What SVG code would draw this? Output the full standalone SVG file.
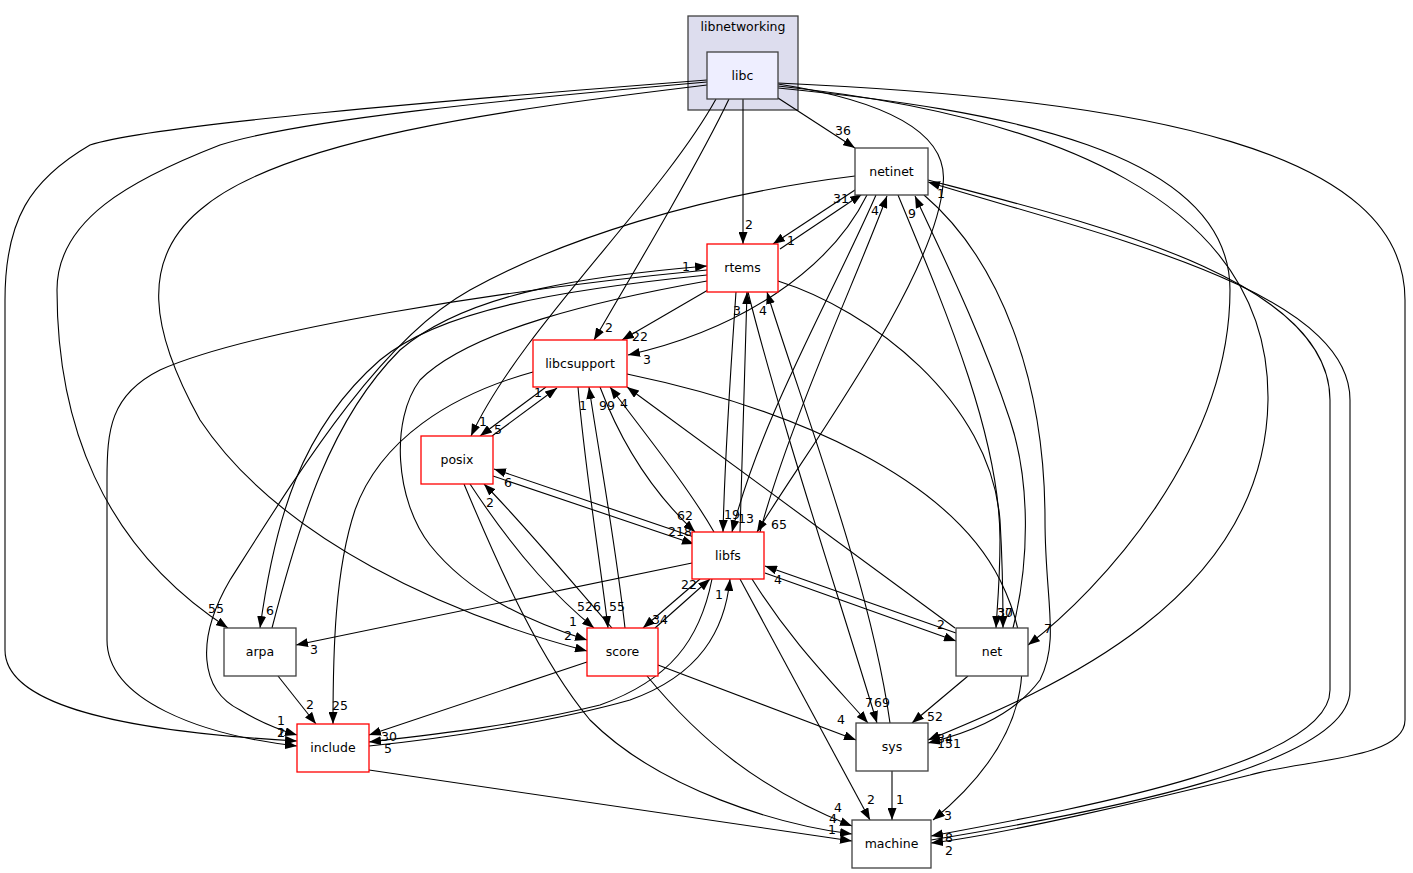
<svg xmlns="http://www.w3.org/2000/svg" width="1413" height="873" viewBox="0 0 1413 873">
<style>
.e{fill:none;stroke:#000;stroke-width:1.1;marker-end:url(#ah)}
.l{font-family:"DejaVu Sans",sans-serif;font-size:12.5px;text-anchor:middle;fill:#000}
.t{font-family:"DejaVu Sans",sans-serif;font-size:12.5px;text-anchor:middle;fill:#000}
.r{fill:#fff;stroke:#ff0000;stroke-width:1.3}
.k{fill:#fff;stroke:#404040;stroke-width:1.3}
</style>
<defs>
<marker id="ah" markerUnits="userSpaceOnUse" markerWidth="12" markerHeight="9" refX="12" refY="4.5" orient="auto">
<path d="M0,0 L12,4.5 L0,9 z" fill="#000"/>
</marker>
</defs>
<rect width="1413" height="873" fill="#fff"/>
<g id="cluster-libnetworking">
<rect x="688" y="16" width="110" height="94" fill="#ddddee" stroke="#404040" stroke-width="1.3"/>
<text class="t" x="743" y="31">libnetworking</text>
</g>
<g id="edges">
<path class="e" d="M778,98 L855,148"/>
<path class="e" d="M743,99 L743,244"/>
<path class="e" d="M729,99 C700,160 635,270 594,340"/>
<path class="e" d="M716,99 C660,200 520,330 471,436"/>
<path class="e" d="M778,84 C880,100 950,130 943,185 C935,280 800,460 757,532"/>
<path class="e" d="M707,85 C500,110 280,140 200,210 C140,260 150,330 200,420 C280,540 450,615 587,651"/>
<path class="e" d="M707,82 C500,100 300,120 220,145 C130,180 57,220 57,290 C57,420 100,545 228,628"/>
<path class="e" d="M707,80 C450,100 150,125 90,145 C30,180 5,220 5,300 L5,650 C5,700 100,730 297,741"/>
<path class="e" d="M778,88 C1000,110 1230,150 1230,290 C1230,450 1100,590 1028,645"/>
<path class="e" d="M778,86 C1050,115 1270,200 1268,400 C1265,600 1050,690 928,740"/>
<path class="e" d="M778,83 C1150,100 1405,150 1405,300 L1405,720 C1405,760 1300,760 1250,775 C1150,800 1000,835 931,843"/>
<path class="e" d="M928,180 C1100,225 1330,280 1330,400 L1330,690 C1330,760 1100,805 931,836"/>
<path class="e" d="M931,840 C1100,812 1350,765 1350,690 L1350,400 C1350,290 1100,235 928,182"/>
<path class="e" d="M855,190 L773,244"/>
<path class="e" d="M780,249 L862,194"/>
<path class="e" d="M760,532 C790,420 860,270 887,196"/>
<path class="e" d="M876,195 C830,300 760,420 732,532"/>
<path class="e" d="M867,195 C830,270 740,330 628,355"/>
<path class="e" d="M1013,628 C1030,560 1030,480 1010,420 C980,330 940,250 915,196"/>
<path class="e" d="M898,195 C950,320 1000,440 1000,540 C1000,580 997,610 996,628"/>
<path class="e" d="M778,281 C870,310 990,400 1000,520 C1003,570 1003,600 1003,628"/>
<path class="e" d="M924,195 C1000,260 1045,380 1045,520 C1045,600 1060,640 1040,680 C1010,720 960,735 928,743"/>
<path class="e" d="M855,176 C700,195 560,240 470,290 C380,340 300,470 230,580 C195,640 200,690 240,710 C260,722 280,730 297,735"/>
<path class="e" d="M707,270 C500,290 250,330 160,370 C110,395 107,430 107,480 L107,640 C107,700 200,735 297,746"/>
<path class="e" d="M707,275 C560,290 440,310 380,360 C300,430 275,520 260,628"/>
<path class="e" d="M272,628 C300,520 330,420 400,350 C470,290 600,275 707,266"/>
<path class="e" d="M707,281 C600,300 470,330 420,380 C390,420 395,500 430,545 C470,595 530,622 587,640"/>
<path class="e" d="M708,290 L622,340"/>
<path class="e" d="M546,387 L480,436"/>
<path class="e" d="M492,436 L557,388"/>
<path class="e" d="M533,372 C450,395 380,440 355,510 C335,570 333,650 333,724"/>
<path class="e" d="M627,374 C800,410 950,480 1000,580 C1040,660 1030,740 933,820"/>
<path class="e" d="M578,387 C585,470 600,560 608,628"/>
<path class="e" d="M625,628 C615,540 600,460 589,387"/>
<path class="e" d="M600,387 C620,440 650,490 695,532"/>
<path class="e" d="M714,532 C690,490 650,440 610,387"/>
<path class="e" d="M955,628 L627,387"/>
<path class="e" d="M493,476 L694,544"/>
<path class="e" d="M694,537 L494,469"/>
<path class="e" d="M470,484 C520,560 560,600 594,628"/>
<path class="e" d="M612,628 C570,580 520,520 484,484"/>
<path class="e" d="M464,484 C500,570 540,660 590,720 C660,790 780,825 852,834"/>
<path class="e" d="M700,579 L643,628"/>
<path class="e" d="M655,628 L710,579"/>
<path class="e" d="M712,579 C700,640 670,680 600,705 C520,725 430,735 369,742"/>
<path class="e" d="M369,746 C450,738 560,720 630,700 C700,675 725,630 730,579"/>
<path class="e" d="M692,563 L296,645"/>
<path class="e" d="M278,676 L316,724"/>
<path class="e" d="M587,662 L369,735"/>
<path class="e" d="M647,676 C700,740 760,790 852,826"/>
<path class="e" d="M658,665 L856,740"/>
<path class="e" d="M740,579 L870,820"/>
<path class="e" d="M752,579 C790,640 830,680 868,723"/>
<path class="e" d="M748,292 C780,420 840,600 877,723"/>
<path class="e" d="M890,723 C870,580 800,400 767,292"/>
<path class="e" d="M968,676 L912,723"/>
<path class="e" d="M892,771 L892,820"/>
<path class="e" d="M369,770 L852,841"/>
<path class="e" d="M765,573 L956,641"/>
<path class="e" d="M956,633 L765,566"/>
<path class="e" d="M736,292 C730,380 725,450 723,532"/>
<path class="e" d="M740,532 C742,450 745,380 747,292"/>
<g id="edge-labels">
<text class="l" x="843" y="135">36</text>
<text class="l" x="749" y="229">2</text>
<text class="l" x="609" y="332">2</text>
<text class="l" x="483" y="426">1</text>
<text class="l" x="779" y="529">65</text>
<text class="l" x="568" y="640">2</text>
<text class="l" x="216" y="613">55</text>
<text class="l" x="281" y="737">2</text>
<text class="l" x="1048" y="633">7</text>
<text class="l" x="945" y="743">34</text>
<text class="l" x="949" y="855">2</text>
<text class="l" x="949" y="842">8</text>
<text class="l" x="941" y="198">1</text>
<text class="l" x="791" y="245">1</text>
<text class="l" x="841" y="203">31</text>
<text class="l" x="875" y="215">4</text>
<text class="l" x="746" y="523">13</text>
<text class="l" x="647" y="364">3</text>
<text class="l" x="912" y="218">9</text>
<text class="l" x="1005" y="617">37</text>
<text class="l" x="1005" y="617">30</text>
<text class="l" x="949" y="748">151</text>
<text class="l" x="281" y="725">1</text>
<text class="l" x="281" y="737">1</text>
<text class="l" x="270" y="615">6</text>
<text class="l" x="686" y="271">1</text>
<text class="l" x="573" y="626">1</text>
<text class="l" x="640" y="341">22</text>
<text class="l" x="732" y="519">19</text>
<text class="l" x="737" y="315">3</text>
<text class="l" x="882" y="707">69</text>
<text class="l" x="763" y="315">4</text>
<text class="l" x="498" y="434">5</text>
<text class="l" x="538" y="397">1</text>
<text class="l" x="340" y="710">25</text>
<text class="l" x="948" y="820">3</text>
<text class="l" x="617" y="611">55</text>
<text class="l" x="583" y="410">1</text>
<text class="l" x="685" y="520">62</text>
<text class="l" x="607" y="410">99</text>
<text class="l" x="624" y="408">4</text>
<text class="l" x="680" y="536">218</text>
<text class="l" x="508" y="487">6</text>
<text class="l" x="589" y="611">526</text>
<text class="l" x="490" y="507">2</text>
<text class="l" x="833" y="823">4</text>
<text class="l" x="660" y="624">34</text>
<text class="l" x="689" y="589">22</text>
<text class="l" x="388" y="753">5</text>
<text class="l" x="719" y="599">1</text>
<text class="l" x="314" y="654">3</text>
<text class="l" x="310" y="709">2</text>
<text class="l" x="389" y="741">30</text>
<text class="l" x="838" y="812">4</text>
<text class="l" x="841" y="724">4</text>
<text class="l" x="871" y="804">2</text>
<text class="l" x="869" y="707">7</text>
<text class="l" x="935" y="721">52</text>
<text class="l" x="900" y="804">1</text>
<text class="l" x="832" y="834">1</text>
<text class="l" x="941" y="629">2</text>
<text class="l" x="778" y="584">4</text>
</g>
</g>
<g id="node-libc"><rect x="707" y="52" width="71" height="47" fill="#eeeeff" stroke="#404040" stroke-width="1.3"/><text class="t" x="742.5" y="80">libc</text></g>
<g id="node-netinet"><rect class="k" x="855" y="148" width="73" height="47"/><text class="t" x="891.5" y="176">netinet</text></g>
<g id="node-rtems"><rect class="r" x="707" y="244" width="71" height="48"/><text class="t" x="742.5" y="272">rtems</text></g>
<g id="node-libcsupport"><rect class="r" x="533" y="340" width="94" height="47"/><text class="t" x="580" y="368">libcsupport</text></g>
<g id="node-posix"><rect class="r" x="421" y="436" width="72" height="48"/><text class="t" x="457" y="464">posix</text></g>
<g id="node-libfs"><rect class="r" x="692" y="532" width="72" height="47"/><text class="t" x="728" y="560">libfs</text></g>
<g id="node-score"><rect class="r" x="587" y="628" width="71" height="48"/><text class="t" x="622.5" y="656">score</text></g>
<g id="node-arpa"><rect class="k" x="224" y="628" width="72" height="48"/><text class="t" x="260" y="656">arpa</text></g>
<g id="node-net"><rect class="k" x="956" y="628" width="72" height="48"/><text class="t" x="992" y="656">net</text></g>
<g id="node-include"><rect class="r" x="297" y="724" width="72" height="48"/><text class="t" x="333" y="752">include</text></g>
<g id="node-sys"><rect class="k" x="856" y="723" width="72" height="48"/><text class="t" x="892" y="751">sys</text></g>
<g id="node-machine"><rect class="k" x="852" y="820" width="79" height="48"/><text class="t" x="891.5" y="848">machine</text></g>
</svg>
